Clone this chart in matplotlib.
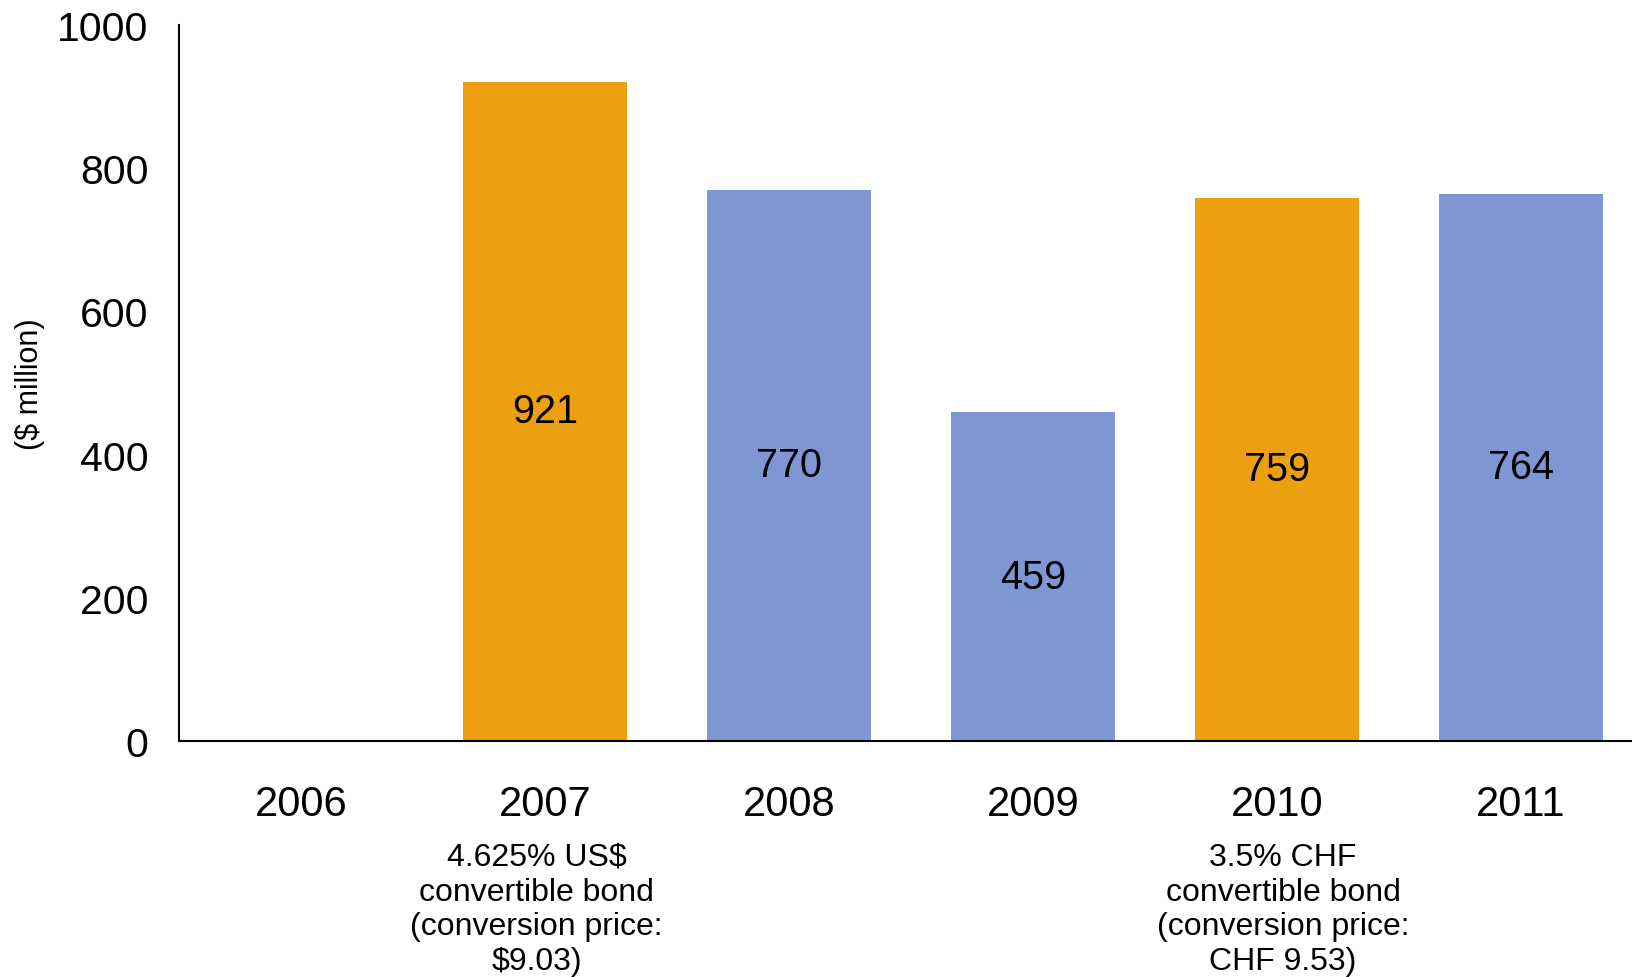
import numpy as np
import matplotlib
matplotlib.use("Agg")
import matplotlib.pyplot as plt
import matplotlib.transforms as mtransforms

plt.rcParams['font.family'] = ['Liberation Sans', 'DejaVu Sans']

years = ["2006", "2007", "2008", "2009", "2010", "2011"]
values = [0, 921, 770, 459, 759, 764]
is_bond = [False, True, False, False, True, False]
notes = {
    1: "4.625% US$\nconvertible bond\n(conversion price:\n$9.03)",
    4: "3.5% CHF\nconvertible bond\n(conversion price:\nCHF 9.53)",
}
orange = "#EC9F0F"
blue = "#7E97D2"

fig = plt.figure(figsize=(16.32, 9.78), dpi=100)
ax = fig.add_axes([0.1097, 0.2413, 0.8903, 0.7321])

x = np.arange(len(years))
colors = [orange if b else blue for b in is_bond]
for i, v in enumerate(values):
    if v > 0:
        ax.bar(x[i], v, width=0.672, color=colors[i], zorder=2)
        ax.text(x[i], v / 2, str(v), ha="center", va="center", fontsize=28.5)

ax.set_xlim(-0.5, 5.455)
ax.set_ylim(0, 1000)
ax.set_yticks([0, 200, 400, 600, 800, 1000])
ax.set_xticks(x)
ax.set_xticklabels(years)
ax.tick_params(axis="y", length=0, labelsize=29.5, pad=22)
ax.tick_params(axis="x", length=0, labelsize=30, pad=31)

for s in ["top", "right"]:
    ax.spines[s].set_visible(False)
for s in ["left", "bottom"]:
    ax.spines[s].set_linewidth(1.5)

ax.set_ylabel("($ million)", fontsize=22)
ax.yaxis.set_label_coords(-0.092, 0.50)

trans = mtransforms.blended_transform_factory(ax.transData, fig.transFigure)
offsets = {1: -0.035, 4: 0.025}
for i, txt in notes.items():
    ax.text(x[i] + offsets[i], 1 - 843 / 978, txt, transform=trans,
            ha="center", va="top", fontsize=23, linespacing=1.2)

fig.savefig("out.png", dpi=100)
